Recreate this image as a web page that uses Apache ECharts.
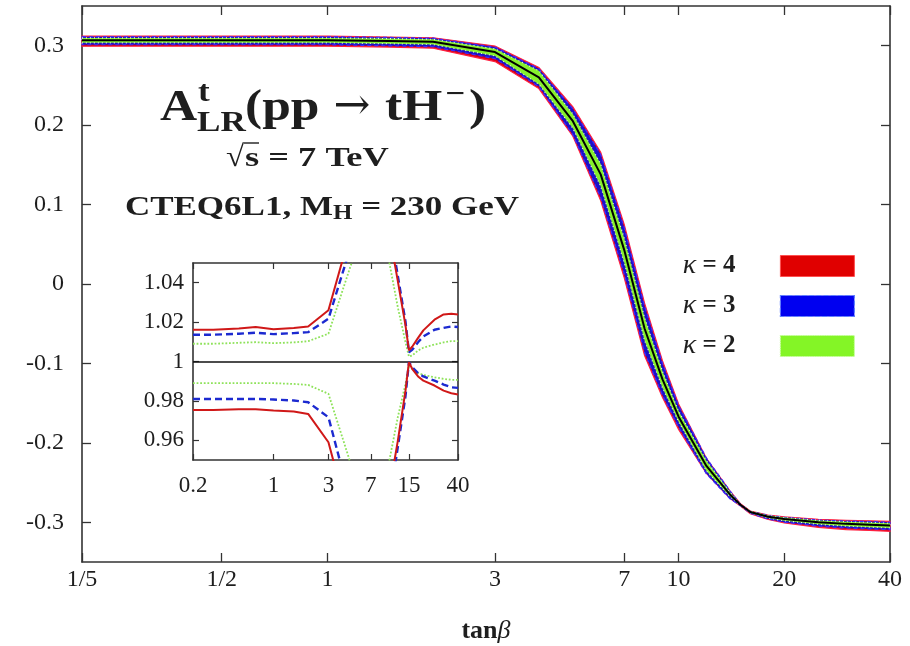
<!DOCTYPE html>
<html><head><meta charset="utf-8">
<script src="https://cdn.jsdelivr.net/npm/echarts@6/dist/echarts.min.js"></script>
<style>html,body{margin:0;padding:0;background:#fff}#c{width:910px;height:646px}</style>
</head><body><div id="c"></div>
<script>
// ---------- data ----------
const tanb = [0.2,0.3,0.5,0.7,1,1.5,2,3,4,5,6,7,8,9,10,12,14,15,16,18,20,25,30,35,40];
const central = [0.307,0.307,0.307,0.307,0.307,0.306,0.305,0.292,0.260,0.205,0.138,0.043,-0.056,-0.120,-0.167,-0.229,-0.265,-0.278,-0.287,-0.293,-0.296,-0.300,-0.302,-0.303,-0.304];
const redHi   = [0.312,0.312,0.312,0.312,0.312,0.311,0.310,0.2996,0.2725,0.223,0.166,0.075,-0.024,-0.097,-0.151,-0.2195,-0.2605,-0.2765,-0.2859,-0.2908,-0.2931,-0.2963,-0.2975,-0.2981,-0.2989];
const redLo   = [0.2993,0.2993,0.2993,0.2993,0.2993,0.2983,0.2969,0.2800,0.246,0.186,0.105,0.008,-0.090,-0.143,-0.183,-0.2384,-0.2698,-0.2795,-0.2892,-0.2965,-0.3007,-0.3064,-0.3092,-0.3103,-0.3113];
const blueHi  = [0.3112,0.3112,0.3112,0.3112,0.3112,0.3104,0.3095,0.2983,0.271,0.2205,0.163,0.071,-0.028,-0.100,-0.153,-0.2190,-0.2603,-0.2773,-0.2862,-0.2913,-0.2938,-0.2971,-0.2985,-0.2990,-0.2999];
const blueLo  = [0.3012,0.3012,0.3012,0.3012,0.3012,0.2999,0.2987,0.2837,0.2485,0.188,0.109,0.013,-0.086,-0.140,-0.180,-0.2390,-0.2704,-0.2791,-0.2887,-0.2959,-0.2998,-0.3048,-0.3072,-0.3084,-0.3093];
const greenHi = [0.3098,0.3098,0.3098,0.3098,0.3098,0.3090,0.3081,0.2961,0.2685,0.214,0.151,0.058,-0.042,-0.110,-0.160,-0.2225,-0.2620,-0.2774,-0.2859,-0.2913,-0.2940,-0.2976,-0.2993,-0.3002,-0.3012];
const greenLo = [0.3036,0.3036,0.3036,0.3036,0.3036,0.3025,0.3014,0.2872,0.2515,0.196,0.123,0.027,-0.071,-0.131,-0.1735,-0.2353,-0.2676,-0.2787,-0.2879,-0.2946,-0.2981,-0.3026,-0.3049,-0.3061,-0.3071];

// inset: ratios to the central curve (null = far off scale)
const insetRedHi   = [1.0161,1.0161,1.0168,1.0175,1.0164,1.0170,1.0178,1.0260,1.0520,null,null,null,null,null,1.0670,1.0409,1.0183,1.0056,1.0075,1.0120,1.0158,1.0212,1.0239,1.0242,1.0239];
const insetRedLo   = [0.9754,0.9754,0.9758,0.9758,0.9751,0.9746,0.9734,0.9590,0.9317,null,null,null,null,null,0.9327,0.9596,0.9852,0.9997,0.9963,0.9924,0.9903,0.9878,0.9852,0.9839,0.9832];
const insetBlueHi  = [1.0136,1.0136,1.0141,1.0146,1.0139,1.0144,1.0149,1.0217,1.0454,1.0636,null,null,null,null,1.0710,1.0436,1.0202,1.0047,1.0059,1.0098,1.0127,1.0161,1.0171,1.0178,1.0175];
const insetBlueLo  = [0.9810,0.9810,0.9810,0.9810,0.9807,0.9802,0.9793,0.9717,0.9440,null,null,null,null,null,0.9260,0.9564,0.9824,0.9997,0.9971,0.9941,0.9924,0.9903,0.9883,0.9869,0.9866];
const insetGreenHi = [1.0090,1.0090,1.0095,1.0098,1.0093,1.0097,1.0103,1.0141,1.0365,1.0537,null,null,null,null,1.0520,1.0276,1.0098,1.0025,1.0030,1.0056,1.0070,1.0086,1.0097,1.0103,1.0103];
const insetGreenLo = [0.9890,0.9890,0.9890,0.9890,0.9890,0.9886,0.9881,0.9836,0.9607,0.9429,null,null,null,null,0.9480,0.9717,0.9886,0.9980,0.9963,0.9941,0.9932,0.9920,0.9912,0.9907,0.9907];

const xTickValues = [0.2,0.5,1,3,7,10,20,40];
const xTickLabels = ['1/5','1/2','1','3','7','10','20','40'];
const yTickValues = [-0.3,-0.2,-0.1,0,0.1,0.2,0.3];
const yTickLabels = ['-0.3','-0.2','-0.1','0','0.1','0.2','0.3'];
const insetXTickValues = [0.2,1,3,7,15,40];
const insetXTickLabels = ['0.2','1','3','7','15','40'];
const insetYTickValues = [0.96,0.98,1,1.02,1.04];
const insetYTickLabels = ['0.96','0.98','1','1.02','1.04'];
const legendNames = ['κ = 4','κ = 3','κ = 2'];

// ---------- helpers ----------
const SERIF = '"Liberation Serif", "DejaVu Serif", serif';
const INK = '#1e1e1e';
const L10 = v => Math.log10(v);
function nearestLabel(vals, labs) {
  return v => { let bi = 0, bd = Infinity; vals.forEach((t, i) => { const d = Math.abs(t - v); if (d < bd) { bd = d; bi = i; } }); return labs[bi]; };
}
const axisLineStyle = { show: true, onZero: false, lineStyle: { color: '#333', width: 1.6 } };

function bandSeries(name, lo, hi, fill, stroke, dash, z) {
  return {
    type: 'custom', name, xAxisIndex: 0, yAxisIndex: 0, z,
    data: tanb.map((x, i) => [x, lo[i], hi[i]]),
    encode: { x: 0, y: [1, 2] },
    itemStyle: { color: fill },
    silent: true,
    renderItem: (params, api) => {
      if (params.dataIndex !== 0) return;
      const top = tanb.map((x, i) => api.coord([x, hi[i]]));
      const bot = tanb.map((x, i) => api.coord([x, lo[i]])).reverse();
      return { type: 'polygon', shape: { points: top.concat(bot) },
        style: { fill, stroke, lineWidth: 1.2, lineDash: dash } };
    }
  };
}
function insetLine(name, arr, color, type, width) {
  return {
    type: 'line', name, xAxisIndex: 3, yAxisIndex: 2, z: 5,
    data: tanb.map((x, i) => [x, arr[i] === null ? '-' : arr[i]]),
    symbol: 'none', clip: true, connectNulls: false, silent: true,
    lineStyle: { color, type, width }
  };
}
function txt(x, y, text, font, sx, extra) {
  return { type: 'text', x, y, z: 10, scaleX: sx || 1,
    style: Object.assign({ text, font: font + ' ' + SERIF, fill: INK, verticalAlign: 'middle' }, extra || {}) };
}

const chart = echarts.init(document.getElementById('c'), null, { renderer: 'canvas' });
const option = {
  animation: false,
  backgroundColor: '#fff',
  grid: [
    { left: 82, right: 20, top: 6, bottom: 84, containLabel: false, outerBoundsMode: 'none' },
    { left: 193, top: 263, width: 265, height: 197, show: true, backgroundColor: '#fff', borderWidth: 0, z: 3,
      containLabel: false, outerBoundsMode: 'none' }
  ],
  xAxis: [
    { gridIndex: 0, type: 'log', min: 0.2, max: 40, show: false },
    { gridIndex: 0, type: 'value', position: 'bottom', min: L10(0.2), max: L10(40),
      axisLine: axisLineStyle,
      axisTick: { inside: true, length: 9, customValues: xTickValues.map(L10), lineStyle: { color: '#333', width: 1.3 } },
      axisLabel: { customValues: xTickValues.map(L10), formatter: nearestLabel(xTickValues.map(L10), xTickLabels),
        fontFamily: SERIF, fontSize: 24, color: INK, margin: 6 },
      splitLine: { show: false },
      name: '{a|tan}{b|β}', nameLocation: 'middle', nameGap: 56,
      nameTextStyle: { rich: { a: { fontFamily: SERIF, fontSize: 26, fontWeight: 'bold', color: INK },
                               b: { fontFamily: SERIF, fontSize: 26, fontStyle: 'italic', color: INK } } } },
    { gridIndex: 0, type: 'value', position: 'top', min: L10(0.2), max: L10(40),
      axisLine: axisLineStyle,
      axisTick: { inside: true, length: 9, customValues: xTickValues.map(L10), lineStyle: { color: '#333', width: 1.3 } },
      axisLabel: { show: false }, splitLine: { show: false } },
    { gridIndex: 1, type: 'log', min: 0.2, max: 40, show: false },
    { gridIndex: 1, type: 'value', position: 'bottom', min: L10(0.2), max: L10(40),
      axisLine: axisLineStyle,
      axisTick: { inside: true, length: 6, customValues: insetXTickValues.map(L10), lineStyle: { color: '#333', width: 1.2 } },
      axisLabel: { customValues: insetXTickValues.map(L10), formatter: nearestLabel(insetXTickValues.map(L10), insetXTickLabels),
        fontFamily: SERIF, fontSize: 23, color: INK, margin: 14 },
      splitLine: { show: false }, z: 4 },
    { gridIndex: 1, type: 'value', position: 'top', min: L10(0.2), max: L10(40),
      axisLine: axisLineStyle,
      axisTick: { inside: true, length: 6, customValues: insetXTickValues.map(L10), lineStyle: { color: '#333', width: 1.2 } },
      axisLabel: { show: false }, splitLine: { show: false }, z: 4 }
  ],
  yAxis: [
    { gridIndex: 0, type: 'value', position: 'left', min: -0.35, max: 0.35,
      axisLine: axisLineStyle,
      axisTick: { inside: true, length: 9, customValues: yTickValues, lineStyle: { color: '#333', width: 1.3 } },
      axisLabel: { customValues: yTickValues, formatter: nearestLabel(yTickValues, yTickLabels),
        fontFamily: SERIF, fontSize: 24, color: INK, margin: 18 },
      splitLine: { show: false } },
    { gridIndex: 0, type: 'value', position: 'right', min: -0.35, max: 0.35,
      axisLine: axisLineStyle,
      axisTick: { inside: true, length: 9, customValues: yTickValues, lineStyle: { color: '#333', width: 1.3 } },
      axisLabel: { show: false }, splitLine: { show: false } },
    { gridIndex: 1, type: 'value', position: 'left', min: 0.95, max: 1.05,
      axisLine: axisLineStyle,
      axisTick: { inside: true, length: 6, customValues: insetYTickValues, lineStyle: { color: '#333', width: 1.2 } },
      axisLabel: { customValues: insetYTickValues, formatter: nearestLabel(insetYTickValues, insetYTickLabels),
        fontFamily: SERIF, fontSize: 23, color: INK, margin: 9 },
      splitLine: { show: false }, z: 4 },
    { gridIndex: 1, type: 'value', position: 'right', min: 0.95, max: 1.05,
      axisLine: axisLineStyle,
      axisTick: { inside: true, length: 6, customValues: insetYTickValues, lineStyle: { color: '#333', width: 1.2 } },
      axisLabel: { show: false }, splitLine: { show: false }, z: 4 }
  ],
  legend: {
    orient: 'vertical', right: 50, top: 247, align: 'right',
    itemWidth: 74, itemHeight: 21, itemGap: 12, icon: 'rect',
    selectedMode: false,
    data: [
      { name: legendNames[0], itemStyle: { color: '#e00000', borderColor: '#ff5050', borderWidth: 1 } },
      { name: legendNames[1], itemStyle: { color: '#0000f0', borderColor: '#6080ff', borderWidth: 1.2, borderType: 'dashed' } },
      { name: legendNames[2], itemStyle: { color: '#84f526', borderColor: '#c8ffa0', borderWidth: 1.2, borderType: 'dotted' } }
    ],
    formatter: name => '{k|' + name.split('=')[0].trim() + '}{t| = ' + name.split('=')[1].trim() + '}',
    textStyle: { color: INK, rich: {
      k: { fontFamily: SERIF, fontSize: 28, fontStyle: 'italic', color: INK },
      t: { fontFamily: SERIF, fontSize: 25, fontWeight: 'bold', color: INK, padding: [0, 40, 0, 0] } } }
  },
  series: [
    bandSeries(legendNames[0], redLo, redHi, '#d80010', '#ff2040', null, 2),
    bandSeries(legendNames[1], blueLo, blueHi, '#1c10c8', '#3a2aff', [4, 3], 3),
    bandSeries(legendNames[2], greenLo, greenHi, '#86f02c', '#e0ffd0', [1, 3], 4),
    { type: 'line', name: 'central', xAxisIndex: 0, yAxisIndex: 0, z: 5, symbol: 'none', silent: true,
      data: tanb.map((x, i) => [x, central[i]]), lineStyle: { color: '#000', width: 2 } },
    insetLine('ratio κ=2 up', insetGreenHi, '#8ee25a', 'dotted', 1.8),
    insetLine('ratio κ=2 down', insetGreenLo, '#8ee25a', 'dotted', 1.8),
    insetLine('ratio κ=3 up', insetBlueHi, '#1c2ad0', [7, 4], 2.4),
    insetLine('ratio κ=3 down', insetBlueLo, '#1c2ad0', [7, 4], 2.4),
    insetLine('ratio κ=4 up', insetRedHi, '#d01818', 'solid', 2),
    Object.assign(insetLine('ratio κ=4 down', insetRedLo, '#d01818', 'solid', 2), {
      markLine: { silent: true, symbol: 'none', label: { show: false }, animation: false,
        lineStyle: { color: '#111', type: 'solid', width: 1.6 }, data: [{ yAxis: 1 }] } })
  ],
  graphic: [
    txt(160, 109, 'A', 'bold 44px', 1.17),
    txt(198, 93, 't', 'bold 30px', 1.17),
    txt(197, 123, 'LR', 'bold 30px', 1.17),
    txt(245, 109, '(pp', 'bold 44px', 1.17),
    { type: 'text', x: 352, y: 108, z: 10, style: { text: '→', font: '44px "DejaVu Serif", serif', fill: INK, align: 'center', verticalAlign: 'middle' } },
    txt(385, 109, 'tH', 'bold 44px', 1.17),
    txt(445, 95, '−', 'bold 30px', 1.17),
    txt(469, 109, ')', 'bold 44px', 1.17),
    txt(226, 158, '√', '30px', 1.1),
    { type: 'line', z: 10, shape: { x1: 244, y1: 143, x2: 259, y2: 143 }, style: { stroke: INK, lineWidth: 1.4 } },
    txt(245, 159, 's = 7 TeV', 'bold 28px', 1.3),
    { type: 'text', x: 322, y: 208, z: 10, scaleX: 1.25, originX: 0, style: {
        text: '{b|CTEQ6L1, M}{s|H}{b| = 230 GeV}', align: 'center', verticalAlign: 'middle',
        rich: { b: { font: 'bold 28px ' + SERIF, fill: INK, lineHeight: 32 },
                s: { font: 'bold 20px ' + SERIF, fill: INK, verticalAlign: 'bottom', lineHeight: 22 } } } }
  ]
};
chart.setOption(option);
</script>
</body></html>
